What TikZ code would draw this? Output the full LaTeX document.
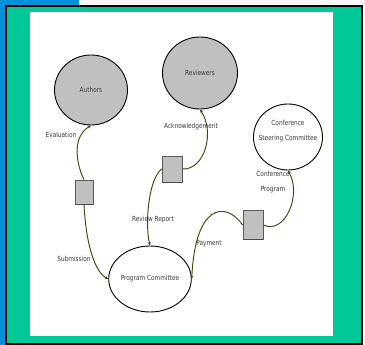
\documentclass[tikz,border=0pt]{standalone}
\usepackage{fontspec}
\newfontfamily\dvs[FakeStretch=0.92]{DejaVu Sans Condensed}
\usetikzlibrary{shapes.geometric,arrows.meta}
\definecolor{bgblue}{RGB}{0,144,218}
\definecolor{bggreen}{RGB}{0,200,150}
\definecolor{fillgray}{RGB}{192,192,192}
\definecolor{lineolive}{RGB}{70,68,20}
\definecolor{txtgray}{RGB}{55,55,55}
\tikzset{
  lbl/.style={font=\dvs\fontsize{7}{14.5}\selectfont, text=txtgray, inner sep=0pt, align=center},
  ent/.style={ellipse, draw=black, line width=0.9pt, inner sep=0pt, lbl},
  store/.style={rectangle, draw=black!65, fill=fillgray, line width=0.7pt, inner sep=0pt},
  flow/.style={draw=lineolive, line width=0.95pt, -{Stealth[length=3.5pt,width=3pt]}}
}
\begin{document}
\begin{tikzpicture}[x=1pt,y=-1pt]
\useasboundingbox (0,0) rectangle (365,345);
% background
\fill[white!94!gray] (0,0) rectangle (365,345);
\fill[bgblue] (0,0) rectangle (79,6);
\fill[bgblue] (0,0) rectangle (6,345);
\fill[bggreen] (6,6) rectangle (362,344);
\draw[black, line width=2pt] (6,6) rectangle (362,344);
\fill[white] (30,12) rectangle (333,336);
% entities
\node[ent, fill=fillgray, minimum width=73pt, minimum height=70pt] (authors) at (91,90) {Authors};
\node[ent, fill=fillgray, minimum width=75pt, minimum height=72pt] (reviewers) at (200,73) {Reviewers};
\node[ent, fill=white, minimum width=69pt, minimum height=66pt] (csc) at (288,137) {};
\node[lbl] (csct) at (288,131) {Conference\\Steering Committee};
\node[ent, fill=white, minimum width=70pt, minimum height=66pt] (pc) at (150,279) {Program Committee};
% stores
\node[store, minimum width=18pt, minimum height=24pt] (s1) at (84,192) {};
\node[store, minimum width=20pt, minimum height=26pt] (s2) at (172,169) {};
\node[store, minimum width=20pt, minimum height=29pt] (s3) at (253,225) {};
\foreach \s in {s1,s2,s3}{
  \draw[black!70, line width=1.3pt] (\s.south west) -- (\s.south east);
}
% flows
\draw[flow] (s1.north) .. controls (78,168) and (70,138) .. (authors.south);
\draw[flow] (s1.south) .. controls (86,245) and (95,272) .. (pc.west);
\draw[flow] (s2.east) .. controls (205,170) and (215,132) .. (reviewers.south);
\draw[flow] (s2.west) .. controls (148,180) and (145,225) .. (pc.north);
\draw[flow] (s3.west) .. controls (225,200) and (195,205) .. (pc.east);
\draw[flow] (s3.east) .. controls (285,235) and (302,195) .. (csc.south);
% labels
\node[lbl] (lev) at (61,135) {Evaluation};
\node[lbl] (lack) at (191,127) {Acknowledgement};
\node[lbl] (lcp) at (273,182) {Conference\\Program};
\node[lbl] (lrr) at (153,220) {Review Report};
\node[lbl] (lpay) at (209,244) {Payment};
\node[lbl] (lsub) at (74,259) {Submission};
\end{tikzpicture}
\end{document}
